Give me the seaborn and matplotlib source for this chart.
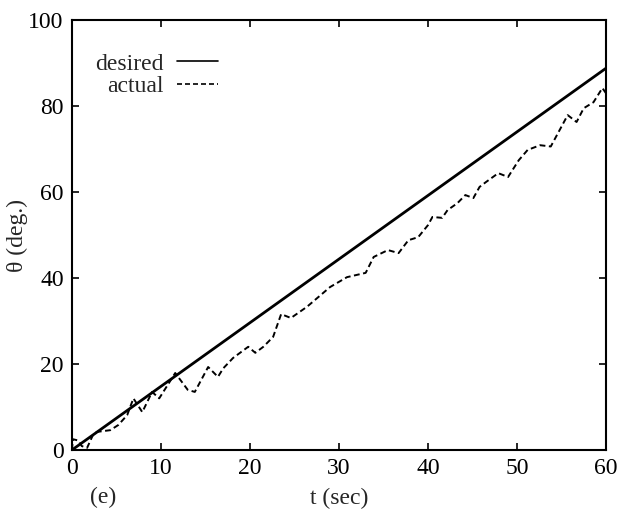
import pandas as pd
import matplotlib
matplotlib.use("Agg")
import matplotlib.pyplot as plt
import seaborn as sns

# --- Data ---
desired_t = [0, 60]
desired_theta = [0, 88.8]

actual_t = [0, 0.1, 0.7, 1.1, 1.7, 2.4, 2.8, 4.3, 5.2, 6.2, 6.9, 7.9, 9.0, 9.8,
            11.6, 13.0, 13.8, 15.3, 16.4, 17.0, 18.1, 19.8, 20.6, 21.5, 22.6,
            23.5, 24.6, 26.4, 27.7, 29.0, 30.9, 33.0, 33.9, 35.5, 36.7, 37.8,
            38.9, 40.0, 40.5, 41.6, 42.2, 43.3, 44.2, 45.1, 45.8, 46.5, 47.9,
            49.0, 50.2, 51.2, 52.6, 53.8, 55.7, 56.7, 57.5, 58.6, 59.6, 60.0]
actual_theta = [0, 2.5, 2.2, 0.9, 0.5, 3.7, 4.2, 4.6, 5.8, 8.1, 12.0, 8.8, 13.5, 12.0,
                17.9, 14.0, 13.5, 19.3, 17.0, 19.0, 21.4, 24.0, 22.6, 24.0, 26.3,
                31.6, 30.7, 33.3, 35.6, 37.9, 40.2, 41.2, 44.9, 46.5, 45.8, 48.8,
                49.5, 52.3, 54.2, 54.0, 55.8, 57.4, 59.3, 58.6, 61.2, 62.3, 64.4,
                63.5, 67.4, 69.8, 70.9, 70.6, 77.9, 76.3, 79.5, 80.9, 84.2, 83.0]

x_ticks = [0, 10, 20, 30, 40, 50, 60]
y_ticks = [0, 20, 40, 60, 80, 100]

df_des = pd.DataFrame({"t": desired_t, "theta": desired_theta})
df_act = pd.DataFrame({"t": actual_t, "theta": actual_theta})

# --- Style ---
sns.set_style("ticks")
plt.rcParams["font.family"] = ["Liberation Serif", "DejaVu Serif"]
plt.rcParams["font.size"] = 17

fig = plt.figure(figsize=(6.18, 5.16), dpi=100)
ax = fig.add_axes([0.1165, 0.128, 0.864, 0.833])

sns.lineplot(data=df_des, x="t", y="theta", ax=ax, color="black",
             linewidth=2.0, label="desired", estimator=None, sort=False)
sns.lineplot(data=df_act, x="t", y="theta", ax=ax, color="black",
             linewidth=1.4, linestyle=(0, (3, 1.8)), label="actual",
             estimator=None, sort=False)

ax.set_xlim(0, 60)
ax.set_ylim(0, 100)
ax.set_xticks(x_ticks)
ax.set_yticks(y_ticks)
ax.tick_params(direction="in", length=5, width=1.2, top=True, right=True,
               labelsize=17, colors="black", pad=6)
for side in ax.spines.values():
    side.set_linewidth(1.5)
    side.set_color("black")

ax.set_xlabel("t (sec)", fontsize=17, labelpad=6)
ax.set_ylabel("θ (deg.)", fontsize=17, labelpad=0)
fig.text(0.167, 0.035, "(e)", fontsize=17, ha="center", va="center")

leg = ax.legend(loc="upper left", bbox_to_anchor=(0.025, 0.945), frameon=False,
                markerfirst=False, handlelength=1.7, handletextpad=0.6,
                labelspacing=0.05, fontsize=17, borderaxespad=0)
for line in leg.get_lines():
    line.set_linewidth(1.2)

fig.savefig("out.png", dpi=100, facecolor="white")
